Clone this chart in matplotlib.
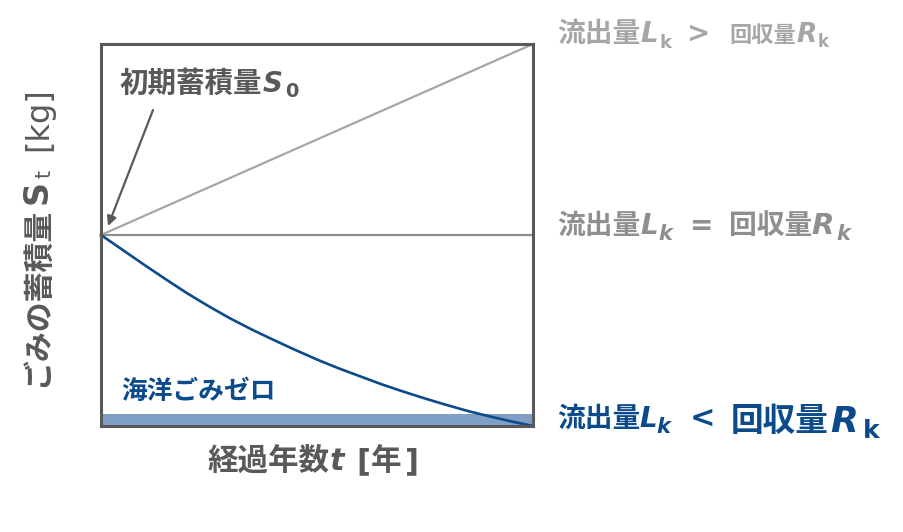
import matplotlib
matplotlib.use("Agg")
import matplotlib.pyplot as plt

# --- data (x: elapsed years, normalised; y: stock S_t, normalised) ---
t_lines = [0.0, 1.0]
s_increase = [0.5, 1.0]      # L_k > R_k
s_flat = [0.5, 0.5]          # L_k = R_k
t_curve = [0.0, 0.05, 0.1, 0.15, 0.2, 0.25, 0.3, 0.35, 0.4, 0.45, 0.5,
           0.55, 0.6, 0.65, 0.7, 0.75, 0.8, 0.85, 0.9, 0.95, 1.0]
s_curve = [0.5, 0.461, 0.422, 0.384, 0.347, 0.313, 0.281, 0.252, 0.225,
           0.199, 0.174, 0.151, 0.13, 0.109, 0.09, 0.072, 0.055, 0.039,
           0.025, 0.012, 0.0]
zero_band = 0.032            # "海洋ごみゼロ" band height

W, H = 904, 532
DARK = "#595959"
LIGHT = "#a6a6a6"
MID = "#8f8f8f"
BLUE = "#0b4a8b"
BAND = "#7fa0c4"

CJK = ["Noto Sans CJK JP", "DejaVu Sans"]
FONTS = {
    "cjk": dict(family=CJK, weight="bold"),
    "it": dict(family="DejaVu Sans", weight="bold", style="italic"),
    "bf": dict(family="DejaVu Sans", weight="bold"),
    "rm": dict(family="DejaVu Sans"),
}

fig = plt.figure(figsize=(W / 100, H / 100), dpi=100)
ax = fig.add_axes([101 / W, (H - 426) / H, 432 / W, 382 / H])
ax.set_xlim(0, 1)
ax.set_ylim(0, 1)
ax.set_xticks([])
ax.set_yticks([])
for sp in ax.spines.values():
    sp.set_color(DARK)
    sp.set_linewidth(2.2)
    sp.set_zorder(5)

ax.fill_between(t_lines, 0, zero_band, color=BAND, lw=0, zorder=1)
ax.plot(t_lines, s_increase, color=LIGHT, lw=1.6, clip_on=False, zorder=3)
ax.plot(t_lines, s_flat, color=MID, lw=1.6, clip_on=False, zorder=3)
ax.plot(t_curve, s_curve, color=BLUE, lw=1.9, clip_on=False, zorder=4)


def put(pieces, color, rotation=0):
    # pieces: (x_px, y_px, text, size, font) in pixels from top-left
    for x, y, s, size, kind in pieces:
        fig.text(x / W, 1 - y / H, s, fontsize=size, color=color,
                 ha="left", va="baseline", rotation=rotation,
                 rotation_mode="anchor", **FONTS[kind])


# right-hand labels
put([(557, 42, "流出量", 20, "cjk"), (640, 42, "L", 20, "it"),
     (660, 48, "k", 13, "bf"), (687, 42, ">", 20, "bf"),
     (729, 42, "回収量", 16, "cjk"), (796, 42, "R", 19, "it"),
     (818, 47, "k", 12, "bf")], LIGHT)
put([(557, 234, "流出量", 20, "cjk"), (640, 234, "L", 20, "it"),
     (658, 240, "k", 15, "it"), (690, 234, "=", 20, "bf"),
     (729, 234, "回収量", 20, "cjk"), (811, 234, "R", 21, "it"),
     (836, 240, "k", 15, "it")], MID)
put([(557, 427, "流出量", 20, "cjk"), (639, 427, "L", 20, "it"),
     (656, 433, "k", 15, "it"), (690, 427, "<", 22, "bf"),
     (731, 431, "回収量", 23.5, "cjk"), (830, 432, "R", 26, "it"),
     (863, 438, "k", 18, "bf")], BLUE)

# annotation of initial stock
put([(120, 92, "初期蓄積量", 20.5, "cjk"), (263, 92, "S", 20, "it"),
     (285, 97, "0", 14, "bf")], DARK)
ax.annotate("", xy=(108 / W, 1 - 226 / H), xycoords="figure fraction",
            xytext=(153 / W, 1 - 110 / H), textcoords="figure fraction",
            arrowprops=dict(arrowstyle="-|>", color=DARK, lw=1.6,
                            mutation_scale=14, shrinkA=0, shrinkB=0))

# ocean-litter-zero label
put([(121, 399, "海洋ごみゼロ", 18.5, "cjk")], BLUE)

# x label
put([(208, 470, "経過年数", 22, "cjk"), (330, 470, "t", 22, "it"),
     (356, 470, "[", 22, "bf"), (371, 470, "年", 22, "cjk"),
     (405, 470, "]", 22, "bf")], DARK)

# y label (rotated)
put([(46, 387, "ごみの蓄積量", 21.5, "cjk"), (47, 204, "S", 24, "bf"),
     (51, 178, "t", 15, "rm"), (47, 151, "[kg]", 23, "rm")], DARK, rotation=90)

fig.savefig("out.png", dpi=100)
